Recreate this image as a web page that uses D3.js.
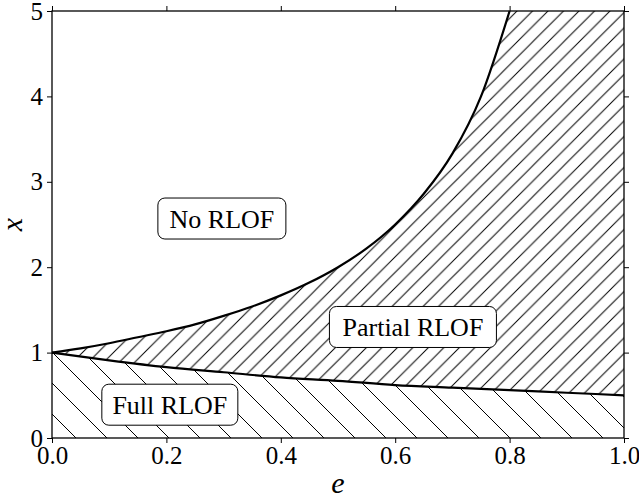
<!DOCTYPE html>
<html>
<head>
<meta charset="utf-8">
<script src="https://cdn.jsdelivr.net/npm/d3@7"></script>
</head>
<body style="margin:0">
<script>
// values
var eVals    = [0, 0.05, 0.1, 0.15, 0.2, 0.25, 0.3, 0.35, 0.4, 0.45, 0.5, 0.55, 0.6, 0.65, 0.7, 0.75, 0.8];
var upperX   = [1, 1.05, 1.11, 1.18, 1.25, 1.33, 1.43, 1.54, 1.67, 1.82, 2.0, 2.22, 2.5, 2.86, 3.33, 4.0, 5.0];
var eLow     = [0, 0.1, 0.2, 0.3, 0.4, 0.5, 0.6, 0.7, 0.8, 0.9, 1.0];
var lowerX   = [1, 0.91, 0.83, 0.77, 0.71, 0.67, 0.62, 0.59, 0.56, 0.53, 0.5];
var eTicks   = [0, 0.2, 0.4, 0.6, 0.8, 1.0];
var xTicks   = [0, 1, 2, 3, 4, 5];
var labelTxt = ["No RLOF", "Partial RLOF", "Full RLOF"];
var labelE   = [0.297, 0.631, 0.206];
var labelX   = [2.57, 1.3, 0.39];

var W = 639, H = 502;
var margin = {left: 52, right: 15, top: 11, bottom: 64};
var FONT = "'Liberation Serif', Tinos, 'Times New Roman', serif";

var svg = d3.select("body").append("svg")
  .attr("width", W)
  .attr("height", H);

var xs = d3.scaleLinear().domain([0, 1]).range([margin.left, W - margin.right]);
var ys = d3.scaleLinear().domain([0, 5]).range([H - margin.bottom, margin.top]);

// hatch patterns
var defs = svg.append("defs");
function hatch(id, size, dir) {
  var p = defs.append("pattern")
    .attr("id", id)
    .attr("patternUnits", "userSpaceOnUse")
    .attr("width", size).attr("height", size)
    .attr("x", margin.left).attr("y", margin.top);
  var d = dir > 0
    ? "M0," + size + "L" + size + ",0 M-2,2 L2,-2 M" + (size - 2) + "," + (size + 2) + " L" + (size + 2) + "," + (size - 2)
    : "M0,0L" + size + "," + size + " M-2," + (size - 2) + " L2," + (size + 2) + " M" + (size - 2) + ",-2 L" + (size + 2) + ",2";
  p.append("path").attr("d", d)
    .attr("stroke", "#000").attr("stroke-width", 1).attr("fill", "none");
}
hatch("fwd", 15.5, 1);
hatch("back", 31, -1);

var upperPts = eVals.map(function(e, i){ return [e, upperX[i]]; });
var lowerPts = eLow.map(function(e, i){ return [e, lowerX[i]]; });

var line = d3.line()
  .x(function(d){ return xs(d[0]); })
  .y(function(d){ return ys(d[1]); })
  .curve(d3.curveMonotoneX);

var lowerLine = line(lowerPts);
var upperLine = line(upperPts.slice().reverse());
// partial region: lower curve forward, top right corner, upper curve back
var regionPath = lowerLine + "L" + xs(1) + "," + ys(5) + "L" + xs(0.8) + "," + ys(5) +
  upperLine.replace(/^M/, "L") + "Z";
svg.append("path")
  .attr("d", regionPath)
  .attr("fill", "url(#fwd)")
  .attr("stroke", "none");

var fullArea = d3.area()
  .x(function(d){ return xs(d[0]); })
  .y0(ys(0))
  .y1(function(d){ return ys(d[1]); })
  .curve(d3.curveMonotoneX);
svg.append("path")
  .attr("d", fullArea(lowerPts))
  .attr("fill", "url(#back)")
  .attr("stroke", "none");

// boundary curves
svg.append("path").attr("d", line(upperPts))
  .attr("fill", "none").attr("stroke", "#000").attr("stroke-width", 2.2);
svg.append("path").attr("d", lowerLine)
  .attr("fill", "none").attr("stroke", "#000").attr("stroke-width", 2.2);

// axes, ticks outward on all sides
var fmt = d3.format(".1f");
var gb = svg.append("g").attr("transform", "translate(0," + ys(0) + ")")
  .call(d3.axisBottom(xs).tickValues(eTicks).tickFormat(fmt).tickSize(5).tickPadding(3));
var gt = svg.append("g").attr("transform", "translate(0," + ys(5) + ")")
  .call(d3.axisTop(xs).tickValues(eTicks).tickFormat("").tickSize(5));
var gl = svg.append("g").attr("transform", "translate(" + xs(0) + ",0)")
  .call(d3.axisLeft(ys).tickValues(xTicks).tickFormat(d3.format("d")).tickSize(5).tickPadding(4));
var gr = svg.append("g").attr("transform", "translate(" + xs(1) + ",0)")
  .call(d3.axisRight(ys).tickValues(xTicks).tickFormat("").tickSize(5));

[gb, gt, gl, gr].forEach(function(g){
  g.attr("font-family", null).attr("font-size", 25);
  g.select(".domain").remove();
  g.selectAll(".tick line").attr("stroke", "#000").attr("stroke-width", 1);
  g.selectAll("text").attr("fill", "#000")
    .style("font-family", FONT);
});

svg.append("rect")
  .attr("x", xs(0)).attr("y", ys(5))
  .attr("width", xs(1) - xs(0)).attr("height", ys(0) - ys(5))
  .attr("fill", "none").attr("stroke", "#000").attr("stroke-width", 1.3);

// axis titles
svg.append("text")
  .attr("x", (xs(0) + xs(1)) / 2).attr("y", 493)
  .attr("text-anchor", "middle")
  .attr("font-size", 30).attr("font-style", "italic")
  .style("font-family", FONT)
  .text("e");
svg.append("text")
  .attr("transform", "translate(22," + ((ys(0) + ys(5)) / 2) + ") rotate(-90)")
  .attr("text-anchor", "middle")
  .attr("font-size", 30).attr("font-style", "italic")
  .style("font-family", FONT)
  .text("x");

// region labels in rounded boxes
var boxW = [128, 167, 136];
labelTxt.forEach(function(t, i){
  var g = svg.append("g")
    .attr("transform", "translate(" + xs(labelE[i]) + "," + ys(labelX[i]) + ")");
  g.append("rect")
    .attr("x", -boxW[i] / 2).attr("y", -20.5)
    .attr("width", boxW[i]).attr("height", 41)
    .attr("rx", 7).attr("ry", 7)
    .attr("fill", "#fff").attr("stroke", "#000").attr("stroke-width", 1);
  g.append("text")
    .attr("text-anchor", "middle")
    .attr("dy", "0.35em")
    .attr("font-size", 26)
    .style("font-family", FONT)
    .text(t);
});
</script>
</body>
</html>
